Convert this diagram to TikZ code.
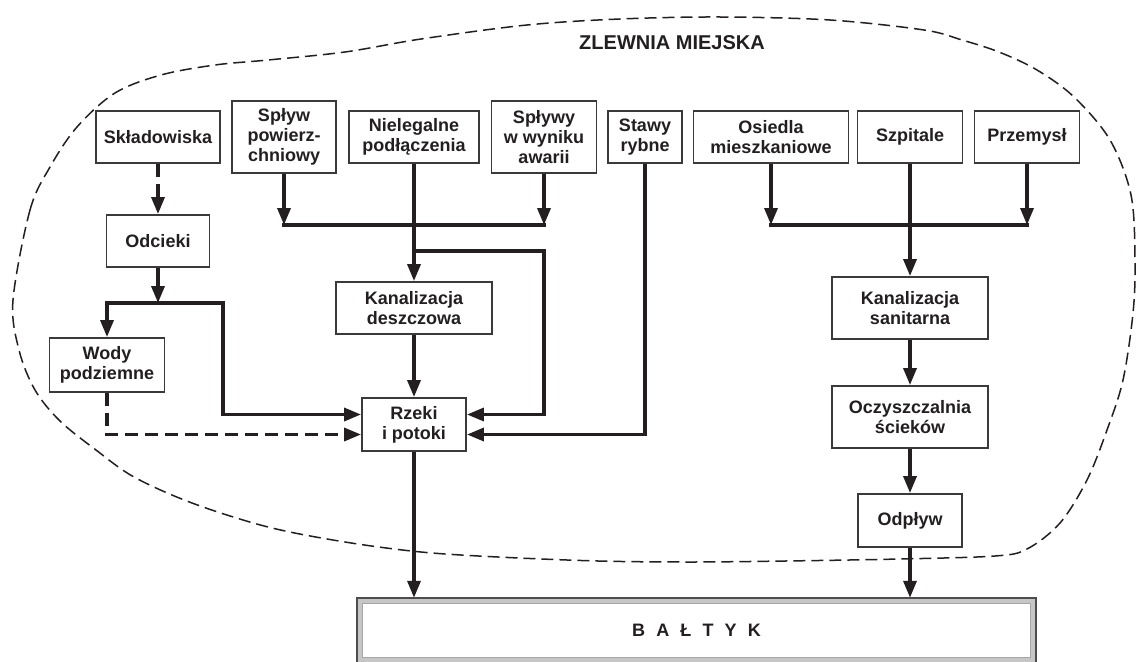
\documentclass[tikz,border=0pt]{standalone}
\usepackage{fontspec}
\setmainfont{Liberation Sans}
\usetikzlibrary{arrows.meta,calc}
\definecolor{ink}{HTML}{231F20}
\definecolor{boxline}{HTML}{3A3A3A}
\begin{document}
\begin{tikzpicture}[x=1pt,y=-1pt,
  box/.style={draw=boxline, line width=1.9pt, fill=white, align=center,
    font=\bfseries\fontsize{18}{20}\selectfont, text=ink, inner sep=0pt},
  flow/.style={line width=3.4pt, draw=ink, -{Triangle[length=17pt,width=13pt]}},
  bus/.style={line width=3.4pt, draw=ink, line cap=rect},
  dflow/.style={flow, dash pattern=on 13pt off 7pt},
  zone/.style={draw=ink, line width=1.5pt, dash pattern=on 12pt off 6pt}]
\useasboundingbox (0,0) rectangle (1137,661);

% catchment outline
\draw[zone] plot[smooth cycle, tension=0.55] coordinates {
  (13,300) (30,210) (50,167) (77,127) (115,93) (161,75) (215,65) (268,60)
  (345,52) (421,39) (527,25) (620,19) (720,17) (830,20) (924,30) (962,40)
  (999,52) (1037,70) (1074,97) (1110,140) (1131,195) (1135,260) (1133,313)
  (1123,380) (1107,430) (1087,480) (1060,523) (1027,549) (995,556)
  (900,559) (785,561) (690,562) (598,561) (498,557) (421,552) (345,542)
  (268,527) (192,503) (134,477) (96,450) (60,421) (35,390) (19,350)};

\node[font=\bfseries\fontsize{20}{24}\selectfont, text=ink] (title) at (672,43) {ZLEWNIA MIEJSKA};

% top row
\node[box, minimum width=124pt, minimum height=52pt] (skl) at (158,137) {Składowiska};
\node[box, minimum width=104pt, minimum height=72pt] (spl) at (284,137) {Spływ\\powierz-\\chniowy};
\node[box, minimum width=130pt, minimum height=52pt] (niel) at (414,137) {Nielegalne\\podłączenia};
\node[box, minimum width=105pt, minimum height=72pt] (awar) at (544,137) {Spływy\\w wyniku\\awarii};
\node[box, minimum width=74pt, minimum height=52pt] (staw) at (645,137) {Stawy\\rybne};
\node[box, minimum width=155pt, minimum height=52pt] (osied) at (771,137) {Osiedla\\mieszkaniowe};
\node[box, minimum width=105pt, minimum height=52pt] (szp) at (910,137) {Szpitale};
\node[box, minimum width=105pt, minimum height=52pt] (prz) at (1027,137) {Przemysł};

% left column
\node[box, minimum width=103pt, minimum height=52pt] (odc) at (158,241) {Odcieki};
\node[box, minimum width=115pt, minimum height=54pt] (wody) at (107,365) {Wody\\podziemne};
\node[box, minimum width=156pt, minimum height=52pt] (kdesz) at (414,308) {Kanalizacja\\deszczowa};
\node[box, minimum width=104pt, minimum height=53pt] (rzeki) at (414,424.5) {Rzeki\\i potoki};

% right column
\node[box, minimum width=156pt, minimum height=62pt] (ksan) at (910,308) {Kanalizacja\\sanitarna};
\node[box, minimum width=156pt, minimum height=62pt] (oczy) at (910,417) {Oczyszczalnia\\ścieków};
\node[box, minimum width=104pt, minimum height=53pt] (odp) at (910,520.5) {Odpływ};

% Baltic
\node[minimum width=679pt, minimum height=65pt, inner sep=0pt, fill=white,
  font=\bfseries\fontsize{18}{20}\selectfont, text=ink] (balt) at (696.5,630.5)
  {B\hspace{0.62em}A\hspace{0.62em}Ł\hspace{0.62em}T\hspace{0.62em}Y\hspace{0.62em}K};
\draw[gray!45, line width=4pt] ([xshift=3.5pt,yshift=-3.5pt]balt.north west) rectangle ([xshift=-3.5pt,yshift=3.5pt]balt.south east);
\draw[gray!70, line width=0.8pt] ([xshift=6pt,yshift=-6pt]balt.north west) rectangle ([xshift=-6pt,yshift=6pt]balt.south east);
\draw[ink!80, line width=1.8pt] (balt.north west) rectangle (balt.south east);

% junction coordinates
\coordinate (busL) at (0,225);
\coordinate (jB) at (414,251);
\coordinate (b1) at (544,251);
\coordinate (o1) at (158,303);
\coordinate (oL) at (107,303);
\coordinate (oR) at (223,303);

% left collector
\draw[flow] (spl.south) -- (spl.south |- busL);
\draw[flow] (awar.south) -- (awar.south |- busL);
\draw[bus] (spl.south |- busL) -- (awar.south |- busL);
\draw[flow] (niel.south) -- (kdesz.north);
\draw[flow] (jB) -- (b1) |- ([yshift=10pt]rzeki.east);
\draw[flow] (staw.south) |- ([yshift=-10pt]rzeki.east);
\draw[flow] (kdesz.south) -- (rzeki.north);

% landfill branch
\draw[dflow] (skl.south) -- (odc.north);
\draw[flow] (odc.south) -- (o1);
\draw[flow] (oR) -- (oL) -- (wody.north);
\draw[flow] (oL) -- (oR) |- ([yshift=10pt]rzeki.west);
\draw[dflow] (wody.south) |- ([yshift=-10pt]rzeki.west);

% right collector
\draw[flow] (osied.south) -- (osied.south |- busL);
\draw[flow] (prz.south) -- (prz.south |- busL);
\draw[bus] (osied.south |- busL) -- (prz.south |- busL);
\draw[flow] (szp.south) -- (ksan.north);
\draw[flow] (ksan.south) -- (oczy.north);
\draw[flow] (oczy.south) -- (odp.north);

% to the sea
\draw[flow] (odp.south) -- (odp.south |- balt.north);
\draw[flow] (rzeki.south) -- (rzeki.south |- balt.north);
\end{tikzpicture}
\end{document}
